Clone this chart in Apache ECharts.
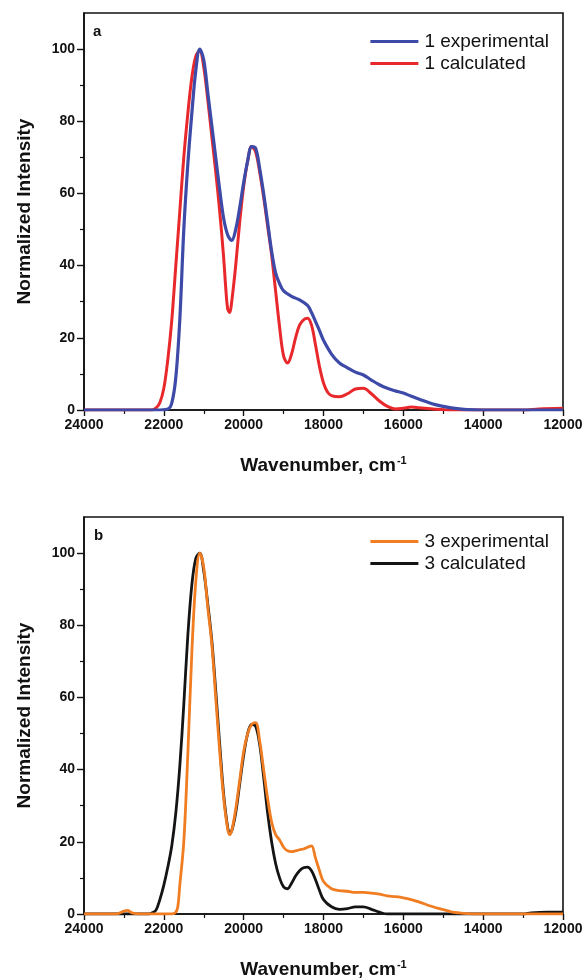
<!DOCTYPE html>
<html>
<head>
<meta charset="utf-8">
<script src="https://cdn.jsdelivr.net/npm/echarts@6/dist/echarts.min.js"></script>
<style>
  html, body { margin: 0; padding: 0; background: #fff; }
  #main { width: 586px; height: 980px; }
</style>
</head>
<body>
<div id="main"></div>
<script>
// panel a, compound 1
const waveA_exp = [24000, 23000, 22200, 21900, 21800, 21700, 21600, 21500, 21400, 21300, 21200, 21100, 21000, 20900, 20800, 20700, 20600, 20500, 20400, 20300, 20200, 20100, 20000, 19900, 19800, 19700, 19600, 19500, 19400, 19300, 19200, 19100, 19000, 18800, 18600, 18400, 18300, 18200, 18100, 18000, 17800, 17600, 17400, 17200, 17000, 16800, 16600, 16400, 16200, 16000, 15800, 15600, 15400, 15200, 15000, 14800, 14600, 14400, 14000, 13000, 12000];
const intA_exp = [0, 0, 0, 0.3, 2, 9, 25, 50, 68, 82, 94, 100, 97, 88, 79, 70, 61, 53, 48.5, 47, 50, 56, 63, 69, 73, 72.5, 67, 60, 52, 44, 38, 35, 33, 31.5, 30.5, 29, 27, 24.5, 22, 19.3, 15.5, 13, 11.7, 10.5, 9.7, 8.3, 7, 6, 5.3, 4.7, 3.8, 3, 2.2, 1.5, 1, 0.6, 0.3, 0.1, 0, 0, 0];

const waveA_calc = [24000, 23000, 22300, 22200, 22100, 22000, 21900, 21800, 21700, 21600, 21500, 21400, 21300, 21200, 21100, 21000, 20900, 20800, 20700, 20600, 20500, 20450, 20400, 20350, 20300, 20200, 20100, 20000, 19900, 19800, 19700, 19600, 19500, 19400, 19300, 19200, 19100, 19000, 18900, 18800, 18700, 18600, 18500, 18400, 18300, 18200, 18100, 18000, 17900, 17800, 17600, 17400, 17200, 17000, 16800, 16600, 16400, 16200, 16000, 15800, 15600, 15200, 14800, 13000, 12600, 12000];
const intA_calc = [0, 0, 0, 0.5, 2, 6, 14, 25, 40, 55, 70, 82, 92, 98, 99.5, 95, 86, 76, 66, 55, 42, 34, 28, 27, 30, 40, 52, 62, 69, 73, 71.5, 66, 59, 51, 43, 33, 23, 15, 13, 15.5, 20, 23.5, 25, 25.4, 23.5, 18, 12, 7.5, 5, 4, 3.7, 4.5, 5.8, 6, 4.5, 2.5, 1, 0.3, 0.5, 0.8, 0.6, 0.2, 0, 0, 0.3, 0.5];

// panel b, compound 3
const waveB_exp = [24000, 23200, 23000, 22900, 22800, 22600, 21800, 21700, 21650, 21600, 21500, 21400, 21300, 21200, 21100, 21000, 20900, 20800, 20700, 20600, 20500, 20400, 20350, 20300, 20200, 20100, 20000, 19900, 19800, 19700, 19600, 19500, 19400, 19300, 19200, 19100, 19000, 18900, 18800, 18700, 18600, 18500, 18400, 18300, 18200, 18100, 18000, 17800, 17600, 17400, 17200, 17000, 16800, 16600, 16400, 16200, 16000, 15800, 15600, 15400, 15200, 15000, 14800, 14600, 14400, 14200, 12000];
const intB_exp = [0, 0, 0.8, 1, 0.3, 0, 0, 0.5, 2, 8, 20, 44, 72, 92, 100, 96, 85, 75, 60, 45, 32, 23.5, 22, 23, 29, 37, 45, 50, 52.5, 53, 48, 40, 32, 25.5, 22, 20.5, 18.5, 17.5, 17.3, 17.5, 17.8, 18, 18.5, 18.9, 15.5, 12, 9, 7, 6.5, 6.3, 6, 6, 5.8, 5.5, 5, 4.8, 4.5, 4, 3.3, 2.5, 1.8, 1.2, 0.6, 0.3, 0.1, 0, 0];

const waveB_calc = [24000, 22400, 22300, 22200, 22100, 22000, 21900, 21800, 21700, 21600, 21500, 21400, 21300, 21200, 21100, 21000, 20900, 20800, 20700, 20600, 20500, 20400, 20350, 20300, 20200, 20100, 20000, 19900, 19800, 19700, 19600, 19500, 19400, 19300, 19200, 19100, 19000, 18900, 18800, 18700, 18600, 18500, 18400, 18300, 18200, 18100, 18000, 17800, 17600, 17400, 17200, 17000, 16800, 16600, 16400, 13000, 12800, 12400, 12000];
const intB_calc = [0, 0, 0.3, 1, 4, 8, 13, 19, 28, 41, 58, 77, 91, 98.5, 100, 95, 86, 76, 62, 47, 33, 24, 22.5, 23, 28, 36, 44, 50, 52.5, 52, 47, 38, 28, 20, 14, 10, 7.5, 7, 8.5, 10.5, 12, 12.8, 13, 12, 9.5, 6.5, 4, 2, 1.3, 1.5, 2, 2, 1.3, 0.5, 0, 0, 0.3, 0.5, 0.5];

const xRange = [12000, 24000];
const xStep = 2000;
const yRange = [0, 110];
const yMajor = [0, 20, 40, 60, 80, 100];
const yMinor = [10, 30, 50, 70, 90];

function pairs(xs, ys) {
  return xs.map((x, i) => [x, ys[i]]);
}

const font = 'Liberation Sans, Arial, sans-serif';
const ink = '#111';
const gridTops = [13, 517];

function makeX(idx) {
  return {
    type: 'value', gridIndex: idx, inverse: true,
    min: xRange[0], max: xRange[1], interval: xStep,
    name: 'Wavenumber, cm{sup|-1}',
    nameLocation: 'middle', nameGap: 45,
    nameTextStyle: {
      fontFamily: font, fontSize: 19, fontWeight: 'bold', color: ink,
      rich: { sup: { fontFamily: font, fontSize: 11, fontWeight: 'bold', color: ink, verticalAlign: 'top', padding: [0, 0, 10, 1] } }
    },
    axisLine: { show: true, onZero: false, lineStyle: { color: ink, width: 1.6 } },
    axisTick: { show: true, length: 6, lineStyle: { color: ink, width: 1.4 } },
    minorTick: { show: true, splitNumber: 2, length: 4, lineStyle: { color: ink, width: 1.2 } },
    axisLabel: { margin: 8, fontFamily: font, fontSize: 14, fontWeight: 'bold', color: ink, formatter: v => String(v) },
    splitLine: { show: false }
  };
}

function makeY(idx) {
  return {
    type: 'value', gridIndex: idx,
    min: yRange[0], max: yRange[1],
    name: 'Normalized Intensity',
    nameLocation: 'middle', nameGap: 50,
    nameTextStyle: { fontFamily: font, fontSize: 19, fontWeight: 'bold', color: ink },
    axisLine: { show: true, onZero: false, lineStyle: { color: ink, width: 1.6 } },
    axisTick: { show: true, length: 7, customValues: yMajor, lineStyle: { color: ink, width: 1.4 } },
    axisLabel: { margin: 9, customValues: yMajor, fontFamily: font, fontSize: 14, fontWeight: 'bold', color: ink },
    splitLine: { show: false }
  };
}

// second y axis on each grid only for the short minor ticks
function makeYMinor(idx) {
  return {
    type: 'value', gridIndex: idx, position: 'left',
    min: yRange[0], max: yRange[1],
    axisLine: { show: false },
    axisTick: { show: true, length: 4, customValues: yMinor, lineStyle: { color: ink, width: 1.2 } },
    axisLabel: { show: false },
    splitLine: { show: false }
  };
}

function line(name, idx, xs, ys, color, width) {
  return {
    name, type: 'line', xAxisIndex: idx, yAxisIndex: idx,
    data: pairs(xs, ys), smooth: 0.35, showSymbol: false,
    lineStyle: { color, width }, itemStyle: { color },
    animation: false
  };
}

function legend(names, top) {
  return {
    data: names, orient: 'vertical', right: 32, top, align: 'left',
    icon: 'rect', itemWidth: 48, itemHeight: 3, itemGap: 3,
    textStyle: { fontFamily: font, fontSize: 19, color: ink, padding: [0, 0, 0, 1] }
  };
}

const chart = echarts.init(document.getElementById('main'), null, { renderer: 'canvas' });
chart.setOption({
  backgroundColor: '#fff',
  animation: false,
  grid: gridTops.map(t => ({
    left: 84, width: 479, top: t, height: 397,
    show: true, borderColor: ink, borderWidth: 1.6, backgroundColor: 'transparent'
  })),
  xAxis: [makeX(0), makeX(1)],
  yAxis: [makeY(0), makeY(1), makeYMinor(0), makeYMinor(1)],
  legend: [
    legend(['1 experimental', '1 calculated'], 27),
    legend(['3 experimental', '3 calculated'], 527)
  ],
  graphic: [
    { type: 'text', left: 93, top: 24, style: { text: 'a', font: 'bold 15px ' + font, fill: ink } },
    { type: 'text', left: 94, top: 528, style: { text: 'b', font: 'bold 15px ' + font, fill: ink } }
  ],
  series: [
    line('1 calculated', 0, waveA_calc, intA_calc, '#e8282b', 3),
    line('1 experimental', 0, waveA_exp, intA_exp, '#3d4aa8', 3.2),
    line('3 calculated', 1, waveB_calc, intB_calc, '#141414', 2.8),
    line('3 experimental', 1, waveB_exp, intB_exp, '#f07d22', 2.8)
  ]
});
</script>
</body>
</html>
